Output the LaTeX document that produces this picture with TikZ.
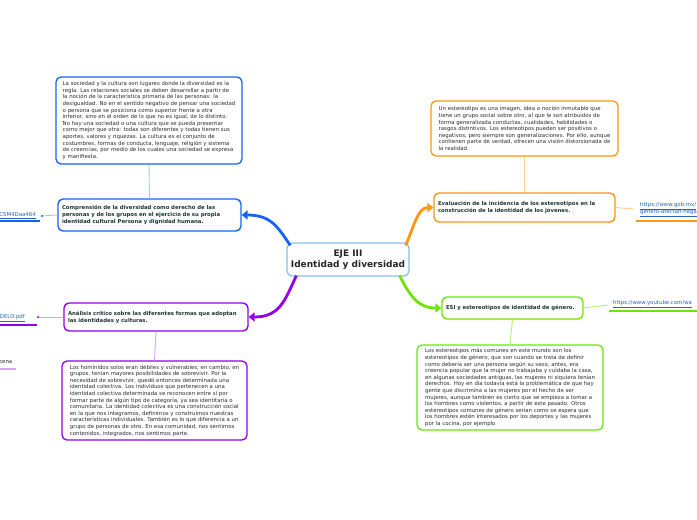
\documentclass[tikz,border=0pt]{standalone}
\usepackage{fontspec}
\setmainfont{DejaVu Sans}
\usetikzlibrary{arrows.meta}
\definecolor{cblue}{RGB}{20,100,240}
\definecolor{cpurple}{RGB}{145,0,235}
\definecolor{corange}{RGB}{255,150,20}
\definecolor{cgreen}{RGB}{110,228,10}
\definecolor{lblue}{RGB}{165,200,245}
\definecolor{lpurple}{RGB}{215,165,245}
\definecolor{lorange}{RGB}{255,205,140}
\definecolor{lgreen}{RGB}{180,240,120}
\definecolor{cborder}{RGB}{140,195,235}
\definecolor{textgray}{RGB}{45,45,45}
\definecolor{nodetext}{RGB}{30,55,50}
\definecolor{linkblue}{RGB}{40,100,190}
\tikzset{
  bigbox/.style={draw, rounded corners=5pt, fill=white, line width=1.3pt, inner sep=0pt,
    font=\fontsize{5.4}{6.6}\selectfont, align=left, text=textgray},
  topic/.style={draw, rounded corners=5pt, fill=white, line width=1.4pt, inner ysep=0pt, inner xsep=4pt,
    font=\fontsize{5.35}{7}\selectfont\bfseries, align=left, text=nodetext},
  mainarrow/.style={line width=2.8pt, -{Triangle[length=6pt,width=9pt]}},
  thin/.style={line width=0.9pt},
  linktext/.style={font=\fontsize{5.4}{7.5}\selectfont, text=linkblue, inner sep=0pt, align=left},
  linkbar/.style={line width=1.8pt}
}
\begin{document}
\begin{tikzpicture}[x=1pt,y=-1pt]
\useasboundingbox[fill=white] (0,0) rectangle (697,520);

% center
\node[draw=cborder, line width=1.3pt, rounded corners=5pt, fill=white, minimum width=122pt, minimum height=33pt,
  align=center, font=\fontsize{9}{11.5}\selectfont\bfseries, text=black!85] (c) at (348,259.5)
  {EJE III\\Identidad y diversidad};

% left blue
\node[bigbox, draw=cblue, minimum width=186pt, minimum height=87pt] (tl) at (149,120.5)
{La sociedad y la cultura son lugares donde la diversidad es la\\
regla. Las relaciones sociales se deben desarrollar a partir de\\
la noción de la característica primaria de las personas: la\\
desigualdad. No en el sentido negativo de pensar una sociedad\\
o persona que se posiciona como superior frente a otra\\
inferior, sino en el orden de lo que no es igual, de lo distinto.\\
No hay una sociedad o una cultura que se pueda presentar\\
como mejor que otra: todas son diferentes y todas tienen sus\\
aportes, valores y riquezas. La cultura es el conjunto de\\
costumbres, formas de conducta, lenguaje, religión y sistema\\
de creencias, por medio de los cuales una sociedad se expresa\\
y manifiesta.};
\node[topic, draw=cblue, text width=175pt, minimum height=32pt] (bn) at (149.5,215)
{Comprensión de la diversidad como derecho de las\\
personas y de los grupos en el ejercicio de su propia\\
identidad cultural Persona y dignidad humana.};
\node[linktext, anchor=east] (l1) at (36,215.5) {\underline{CSM4Daa464}};
\coordinate (d1) at (42,216);
\coordinate (b1a) at (0,221);
\coordinate (b1b) at (40,221);
\draw[linkbar, cblue] (b1a) -- (b1b);
\draw[thin, lblue] (bn.west) -- (d1);
\fill[cblue] (d1) circle (1.2pt);
\draw[thin, lblue] (tl.south) -- (bn.north);

% left purple
\node[topic, draw=cpurple, text width=176pt, minimum height=28pt] (pn) at (156,317)
{Análisis crítico sobre las diferentes formas que adoptan\\
las identidades y culturas.};
\node[bigbox, draw=cpurple, minimum width=185pt, minimum height=79pt] (bl) at (154.5,400.5)
{Los homínidos solos eran débiles y vulnerables; en cambio, en\\
grupos, tenían mayores posibilidades de sobrevivir. Por la\\
necesidad de sobrevivir, quedó entonces determinada una\\
identidad colectiva. Los individuos que pertenecen a una\\
identidad colectiva determinada se reconocen entre sí por\\
formar parte de algún tipo de categoría, ya sea identitaria o\\
comunitaria. La identidad colectiva es una construcción social\\
en la que nos integramos, definimos y construimos nuestras\\
características individuales. También es lo que diferencia a un\\
grupo de personas de otro. En esa comunidad, nos sentimos\\
contenidos, integrados, nos sentimos parte.};
\node[linktext, anchor=east] (l2) at (25,318.5) {\underline{DELO.pdf}};
\coordinate (d2) at (38,317);
\coordinate (b2a) at (0,325);
\coordinate (b2b) at (37,325);
\draw[linkbar, cpurple] (b2a) -- (b2b);
\draw[thin, lpurple] (pn.west) -- (d2);
\fill[cpurple] (d2) circle (1.2pt);
\draw[thin, lpurple] (pn.south) -- (bl.north);
\node[font=\fontsize{5.4}{6}\selectfont, text=textgray, inner sep=0pt, anchor=east] (l3) at (12.5,362.5) {cena};
\coordinate (b3a) at (0,369);
\coordinate (b3b) at (16,369);
\draw[linkbar, lpurple] (b3a) -- (b3b);

% right orange
\node[bigbox, draw=corange, minimum width=187pt, minimum height=55pt] (ob) at (524.5,128.5)
{Un estereotipo es una imagen, idea o noción inmutable que\\
tiene un grupo social sobre otro, al que le son atribuidos de\\
forma generalizada conductas, cualidades, habilidades o\\
rasgos distintivos. Los estereotipos pueden ser positivos o\\
negativos, pero siempre son generalizaciones. Por ello, aunque\\
contienen parte de verdad, ofrecen una visión distorsionada de\\
la realidad.};
\node[topic, draw=corange, text width=173pt, minimum height=29pt] (on) at (524.5,207.5)
{Evaluación de la incidencia de los estereotipos en la\\
construcción de la identidad de los jóvenes.};
\node[linktext, anchor=west] (l4) at (640,209.5) {\underline{https://www.gob.mx/}\\\underline{genero-afectan-nega}};
\coordinate (d4) at (634,209);
\coordinate (b4a) at (636,221);
\coordinate (b4b) at (697,221);
\draw[linkbar, corange] (b4a) -- (b4b);
\draw[thin, lorange] (on.east) -- (d4);
\draw[thin, lorange] (ob.south) -- (on.north);

% right green
\node[topic, draw=cgreen, text width=133pt, minimum height=22pt] (gn) at (512.5,308)
{ESI y estereotipos de identidad de género.};
\node[bigbox, draw=cgreen, minimum width=186pt, minimum height=85pt] (gb) at (510,387.5)
{Los estereotipos más comunes en este mundo son los\\
estereotipos de género, que son cuando se trata de definir\\
como debería ser una persona según su sexo, antes, era\\
creencia popular que la mujer no trabajaba y cuidaba la casa,\\
en algunas sociedades antiguas, las mujeres ni siquiera tenían\\
derechos. Hoy en día todavía está la problemática de que hay\\
gente que discrimina a las mujeres por el hecho de ser\\
mujeres, aunque también es cierto que se empieza a tomar a\\
los hombres como violentos, a partir de este pasado. Otros\\
estereotipos comunes de género serían como se espera que\\
los hombres estén interesados por los deportes y las mujeres\\
por la cocina, por ejemplo};
\node[linktext, anchor=west] (l5) at (613,304) {\underline{https://www.youtube.com/wa}};
\coordinate (d5) at (608,305);
\coordinate (b5a) at (609,311);
\coordinate (b5b) at (697,311);
\draw[linkbar, cgreen] (b5a) -- (b5b);
\draw[thin, lgreen] (gn.east) -- (d5);
\draw[thin, lgreen] (gn.south) -- (gb.north);

% main arrows
\draw[mainarrow, cblue] ([shift={(4,3)}]c.north west) .. controls (278,228) and (272,215) .. (bn.east);
\draw[mainarrow, corange] ([shift={(-4,3)}]c.north east) .. controls (414,226) and (418,207.5) .. (on.west);
\draw[mainarrow, cpurple] ([shift={(10,-1)}]c.south west) .. controls (285,300) and (280,317) .. (pn.east);
\draw[mainarrow, cgreen] ([shift={(-10,-1)}]c.south east) .. controls (410,296) and (418,308) .. (gn.west);
\end{tikzpicture}
\end{document}
